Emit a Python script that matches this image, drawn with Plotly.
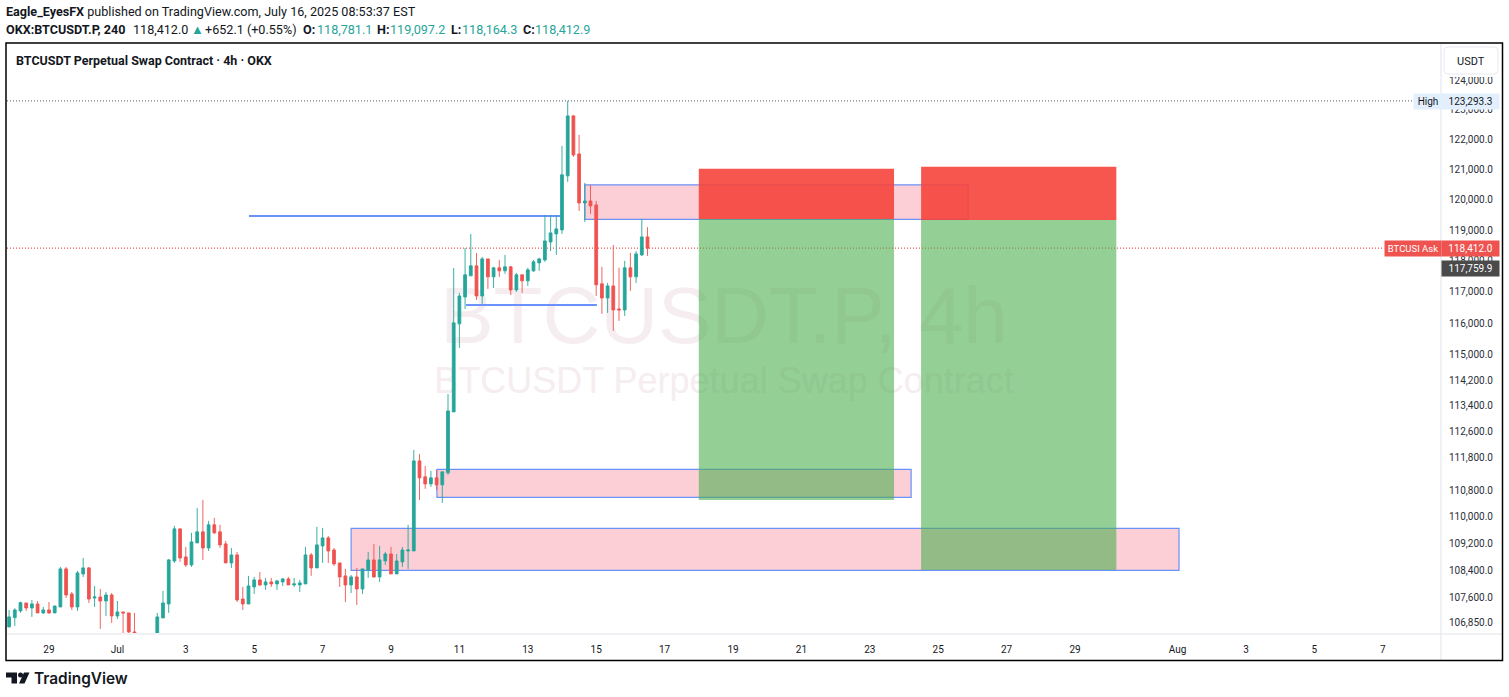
import pandas as pd
import plotly.graph_objects as go

# 4h candles, first bar is Jun 27 20:00
opens = [106732,107005,107201,107435,107289,107406,107142,107230,107142,107318,
         108444,107701,107318,108295,108473,107582,107612,107494,107671,107054,
         107171,107142,106585,106500,106200,106350,106250,106996,107406,108681,
         109641,108800,108563,109220,109551,109068,109762,109551,109190,108622,
         108860,107552,107406,107909,108117,107968,108057,107998,108057,108146,
         107968,107968,107998,108860,108473,109130,109370,109008,108622,108236,
         107968,108206,107849,108414,108711,108206,108681,108889,108295,108652,
         108978,108978,111704,111216,111002,111185,110972,111338,113215,115981,
         116841,117519,117841,116873,118066,117487,117776,117680,117809,117066,
         117551,117358,117680,117937,118034,118616,118878,119009,120786,122789,
         121515,119892,119957,119826,117261,116808,117195,116458,116426,117776,
         117487,118195,118781.1]
highs = [107230,107280,107474,107435,107523,107494,107318,107464,107347,108503,
         108503,107760,108384,108770,108503,107938,107849,107760,107730,107494,
         107171,107142,107142,106520,106400,106500,107142,107790,108741,109731,
         109641,109099,109521,110273,110514,109882,109972,109762,109280,109068,
         108949,107909,108236,108206,108354,108176,108176,108117,108176,108206,
         108176,108117,109099,108919,109701,109671,109430,109068,108622,108444,
         108265,108473,108444,108949,109190,109130,108949,109099,108889,109099,
         109762,112039,111917,111551,111399,111429,111368,113773,117776,116969,
         118420,118878,118259,118131,118066,117809,118034,118195,117841,117615,
         117551,117776,118034,118098,119500,119500,119500,121781,123293.3,122823,
         122151,120555,120488,119957,117809,117293,118520,117776,118002,118259,
         118324,119369,119097.2]
lows = [106732,106761,107150,107201,107025,107142,107113,107113,107142,107318,
        107582,107230,107201,108206,107435,107318,106673,107054,106849,106966,
        106350,106527,106470,106100,106000,106100,106200,106996,107142,108622,
        108652,108503,108503,109220,108711,108978,109491,109068,108622,108473,
        107464,107230,107406,107701,107938,107820,107909,107820,107938,107968,
        107909,107760,107998,108236,108473,108622,108622,108533,107909,107464,
        107730,107376,107701,108176,108176,108057,108563,108295,108295,108503,
        108444,108978,110514,110850,110911,110819,110424,111277,113215,115219,
        116458,117519,116744,116617,117098,117130,117487,117583,116905,117002,
        116969,117195,117648,117680,117970,118324,118195,118878,120587,121415,
        119630,119271,119532,116873,116299,116331,115760,116076,116235,117034,
        117293,118163,118164.3]
closes = [107025,107230,107444,107289,107406,107142,107230,107142,107347,108444,
          107671,107318,108325,108473,107552,107612,107494,107671,107054,107171,
          107142,106585,106527,106200,106350,106250,107025,107435,108711,109641,
          108770,108563,109250,109551,109068,109762,109521,109160,108622,108860,
          107523,107406,107938,108117,107968,108057,107998,108087,108146,107968,
          107998,108028,108860,108473,109160,109370,108978,108592,108206,107968,
          108206,107849,108444,108711,108206,108711,108889,108295,108681,109008,
          109008,111704,111185,111002,111185,110972,111368,113246,116013,116873,
          117551,117841,116873,118066,117487,117776,117680,117809,117066,117551,
          117358,117712,117970,118066,118649,118911,119042,120820,122789,121481,
          119892,119957,119794,117229,116808,117195,116426,116426,117776,117487,
          118227,118780,118412.9]
dates = pd.date_range("2025-06-27 20:00", periods=len(opens), freq="4h")

price_ticks = [124000,123000,122000,121000,120000,119000,118000,117000,116000,115000,
               114200,113400,112600,111800,110800,110000,109200,108400,107600,106850]
time_ticks = ["2025-06-29","2025-07-01","2025-07-03","2025-07-05","2025-07-07","2025-07-09",
              "2025-07-11","2025-07-13","2025-07-15","2025-07-17","2025-07-19","2025-07-21",
              "2025-07-23","2025-07-25","2025-07-27","2025-07-29","2025-08-01","2025-08-03",
              "2025-08-05","2025-08-07"]
time_labels = ["29","Jul","3","5","7","9","11","13","15","17","19","21","23","25","27","29",
               "Aug","3","5","7"]

# drawings: start, end, top price, bottom price
zone_top = ("2025-07-14 16:00", "2025-07-25 21:00", 120488, 119353)
zone_mid = ("2025-07-10 08:15", "2025-07-24 05:00", 111444, 110590)
zone_low = ("2025-07-07 20:00", "2025-08-01 01:00", 109656, 108400)
stop_1 = ("2025-07-18 00:00", "2025-07-23 17:00", 121018, 119369)
target_1 = ("2025-07-18 00:00", "2025-07-23 17:00", 119369, 110514)
stop_2 = ("2025-07-24 12:00", "2025-07-30 05:00", 121084, 119336)
target_2 = ("2025-07-24 12:00", "2025-07-30 05:00", 119336, 108414)
level_1 = ("2025-07-04 20:20", "2025-07-14 00:00", 119467)
level_2 = ("2025-07-11 04:40", "2025-07-15 00:30", 116585)
HIGH_PRICE = 123293.3
ASK_PRICE = 118412.9

BLUE = "#6a92fa"
PINK = "rgba(247,132,149,0.4)"
RED = "rgba(246,68,60,0.9)"
GREEN = "rgba(76,175,80,0.6)"
INK = "#131722"
TEAL = "#26a69a"
FONT = "Roboto"

# plot area in window pixels
LEFT, RIGHT, TOP, BOTTOM = 7, 1441, 44, 633


def fx(px):
    return (px - LEFT) / (RIGHT - LEFT)


def fy(py):
    return (BOTTOM - py) / (BOTTOM - TOP)


fig = go.Figure()
fig.add_trace(go.Candlestick(
    x=dates, open=opens, high=highs, low=lows, close=closes,
    increasing=dict(line=dict(color=TEAL, width=0.9), fillcolor=TEAL),
    decreasing=dict(line=dict(color="#ef5350", width=0.9), fillcolor="#ef5350"),
    whiskerwidth=0, showlegend=False,
))

# watermark goes under everything, so it is a shape label
for py0, py1, text, size in [(260, 354, "BTCUSDT.P, 4h", 80), (354, 400, "BTCUSDT Perpetual Swap Contract", 36)]:
    fig.add_shape(type="rect", xref="paper", yref="paper", x0=fx(298), x1=fx(1150), y0=fy(py1), y1=fy(py0),
                  line_width=0, layer="below",
                  label=dict(text=text, textposition="middle center",
                             font=dict(size=size, color="#f5edef", family="Liberation Sans")))

for x0, x1, top, bot in [zone_low, zone_mid, zone_top]:
    fig.add_shape(type="rect", x0=x0, x1=x1, y0=bot, y1=top, fillcolor=PINK,
                  line=dict(color=BLUE, width=1.2), layer="below")
for box, color in [(stop_1, RED), (target_1, GREEN), (stop_2, RED), (target_2, GREEN)]:
    x0, x1, top, bot = box
    fig.add_shape(type="rect", x0=x0, x1=x1, y0=bot, y1=top, fillcolor=color, line_width=0, layer="below")
for x0, x1, y in [level_1, level_2]:
    fig.add_shape(type="line", x0=x0, x1=x1, y0=y, y1=y, line=dict(color=BLUE, width=2), layer="below")

fig.add_shape(type="line", xref="paper", x0=0, x1=fx(1413), y0=HIGH_PRICE, y1=HIGH_PRICE,
              line=dict(color="#787b86", width=1.2, dash="1px,2px"), layer="below")
fig.add_shape(type="line", xref="paper", x0=0, x1=fx(1384), y0=ASK_PRICE, y1=ASK_PRICE,
              line=dict(color="#ef5350", width=1.2, dash="1px,2px"), layer="below")


def page_line(x0, y0, x1, y1, color, width):
    fig.add_shape(type="line", xref="paper", yref="paper", x0=fx(x0), x1=fx(x1), y0=fy(y0), y1=fy(y1),
                  line=dict(color=color, width=width))


# panel separators and outer frame
page_line(7, 634, 1502, 634, "#e0e3eb", 1)
page_line(1441, 44, 1441, 660, "#e0e3eb", 1)
fig.add_shape(type="rect", xref="paper", yref="paper", x0=fx(6), x1=fx(1502.5), y0=fy(660.5), y1=fy(43),
              line=dict(color="#000000", width=1.5))


def poly(points, fill):
    path = "M " + " L ".join(f"{fx(a)},{fy(b)}" for a, b in points) + " Z"
    fig.add_shape(type="path", xref="paper", yref="paper", path=path, fillcolor=fill, line_width=0)


# USDT button, with the strip under it that cuts the top tick label
poly([(1442, 47), (1499, 47), (1499, 77), (1442, 77)], "#ffffff")
bx0, bx1, by0, by1, r = 1444, 1498, 47, 74, 4
path = (f"M {fx(bx0+r)},{fy(by0)} L {fx(bx1-r)},{fy(by0)} Q {fx(bx1)},{fy(by0)} {fx(bx1)},{fy(by0+r)} "
        f"L {fx(bx1)},{fy(by1-r)} Q {fx(bx1)},{fy(by1)} {fx(bx1-r)},{fy(by1)} L {fx(bx0+r)},{fy(by1)} "
        f"Q {fx(bx0)},{fy(by1)} {fx(bx0)},{fy(by1-r)} L {fx(bx0)},{fy(by0+r)} Q {fx(bx0)},{fy(by0)} {fx(bx0+r)},{fy(by0)} Z")
fig.add_shape(type="path", xref="paper", yref="paper", path=path, fillcolor="#ffffff",
              line=dict(color="#e8eaf0", width=1))

# logo mark
poly([(6, 672.5), (17, 672.5), (17, 683.5), (11.5, 683.5), (11.5, 677.5), (6, 677.5)], INK)
poly([(24, 672.5), (29.5, 672.5), (24.5, 683.5), (19, 683.5)], INK)
fig.add_shape(type="circle", xref="paper", yref="paper", x0=fx(18), x1=fx(23), y0=fy(677.6), y1=fy(672.6),
              fillcolor=INK, line_width=0)


def text_at(px, py, text, size=12, color=INK, anchor="left", family=FONT, weight=None):
    fig.add_annotation(xref="paper", yref="paper", x=fx(px), y=fy(py), text=text, showarrow=False,
                       xanchor=anchor, yanchor="middle", align=anchor, borderpad=0,
                       font=dict(size=size, color=color, family=family, weight=weight))


def tag(x0, x1, y0, y1, text, bg, fg, size=10):
    fig.add_annotation(xref="paper", yref="paper", x=fx(x0), y=fy((y0 + y1) / 2), text=text, showarrow=False,
                       xanchor="left", yanchor="middle", align="center", width=x1 - x0, height=y1 - y0,
                       bgcolor=bg, borderpad=0, font=dict(size=size, color=fg, family=FONT))


H = 12.6
text_at(5, 12, "<b>Eagle_EyesFX</b> published on TradingView.com, July 16, 2025 08:53:37 EST", size=H)
text_at(5, 29.5, "<b>OKX:BTCUSDT.P, 240</b>", size=H)
text_at(132, 29.5, "118,412.0", size=H)
text_at(190, 29.5, "▲", size=13, color=TEAL)
text_at(204, 29.5, "+652.1 (+0.55%)", size=H)
for px, text in [(301.5, "<b>O:</b>"), (376, "<b>H:</b>"), (450, "<b>L:</b>"), (522, "<b>C:</b>")]:
    text_at(px, 29.5, text, size=H)
for px, text in [(316, "118,781.1"), (389, "119,097.2"), (461, "118,164.3"), (534, "118,412.9")]:
    text_at(px, 29.5, text, size=H, color=TEAL)
text_at(15, 60, "<b>BTCUSDT Perpetual Swap Contract · 4h · OKX</b>", size=12.5)
text_at(33, 678, "TradingView", size=15.4, family="Inter", weight=600)
text_at(1471, 61, "USDT", size=11, anchor="center")

tag(1413, 1441, 94, 109, "High", "#e3effd", INK)
tag(1441, 1498, 94, 109, "123,293.3", "#e3effd", INK)
tag(1384, 1440, 241, 256, "BTCUSI Ask", "#ef5350", "#ffffff", size=9.5)
tag(1441, 1498, 241, 256, "118,412.0", "#ef5350", "#ffffff")
tag(1441, 1498, 261, 276, "117,759.9", "#4a4a4a", "#ffffff")

fig.update_layout(
    width=1509, height=697,
    margin=dict(l=LEFT, r=1509 - RIGHT, t=TOP, b=697 - BOTTOM),
    paper_bgcolor="#ffffff", plot_bgcolor="#ffffff",
    font=dict(family=FONT, size=10, color=INK),
    showlegend=False,
    xaxis=dict(type="date", range=["2025-06-27 18:32", "2025-08-08 16:50"], rangeslider_visible=False,
               showgrid=False, zeroline=False, showline=False,
               tickmode="array", tickvals=time_ticks, ticktext=time_labels, tickangle=0,
               ticks="outside", ticklen=7, tickcolor="rgba(0,0,0,0)", tickfont=dict(size=10, color=INK)),
    yaxis=dict(type="log", side="right", range=[5.02757, 5.09772],
               showgrid=False, zeroline=False, showline=False,
               tickmode="array", tickvals=price_ticks, ticktext=[f"{v:,.1f}" for v in price_ticks],
               ticks="outside", ticklen=5, tickcolor="rgba(0,0,0,0)", tickfont=dict(size=10, color="#2a2e39")),
)

fig.write_html("out.html", config={"displayModeBar": False},
               post_script="document.body.style.margin='0';document.body.style.overflow='hidden';")
